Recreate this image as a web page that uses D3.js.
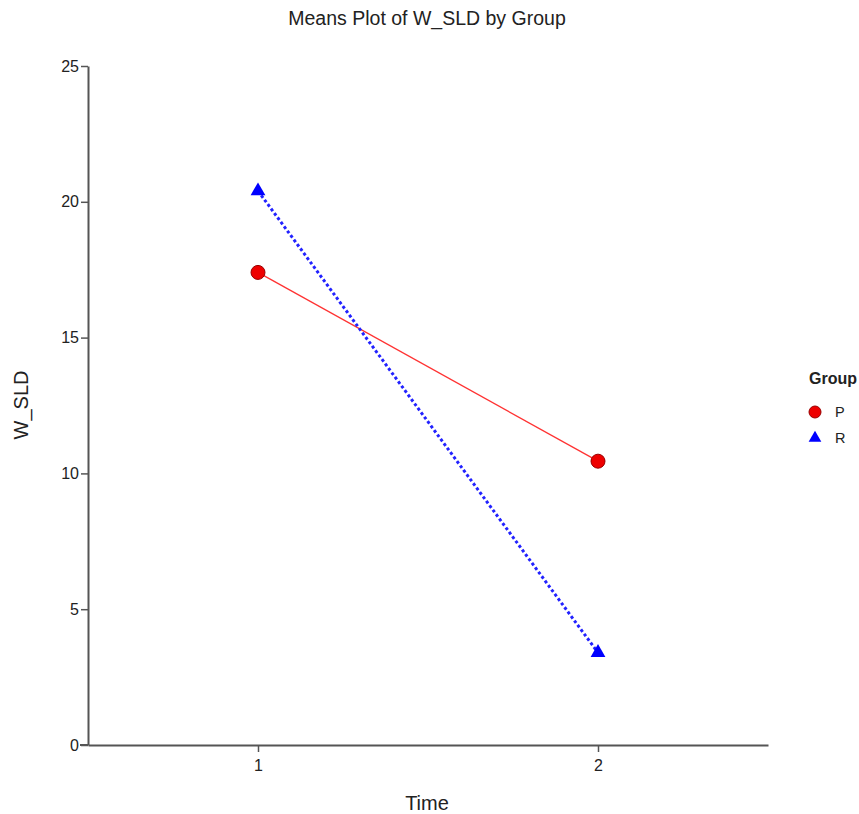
<!DOCTYPE html>
<html>
<head>
<meta charset="utf-8">
<script src="https://cdn.jsdelivr.net/npm/d3@7"></script>
<style>
  body { margin: 0; background: #fff; }
  svg, svg text { font-family: "Liberation Sans", Arial, sans-serif; }
</style>
</head>
<body>
<div id="chart"></div>
<script>
const times = [1, 2];
const groups = ["P", "R"];
const meansP = [17.4, 10.45];
const meansR = [20.4, 3.4];
const yTicks = [0, 5, 10, 15, 20, 25];

const W = 859, H = 814;

const svg = d3.select("#chart")
    .append("svg")
    .attr("width", W)
    .attr("height", H);

const x = d3.scaleLinear().domain([0.5, 2.5]).range([88, 768]);
const y = d3.scaleLinear().domain([0, 25]).range([745, 66]);

// axes
const yAxis = svg.append("g")
    .attr("transform", "translate(88,0)")
    .call(d3.axisLeft(y).tickValues(yTicks).tickSize(7).tickSizeOuter(0).tickPadding(2));

const xAxis = svg.append("g")
    .attr("transform", "translate(0,745)")
    .call(d3.axisBottom(x).tickValues(times).tickFormat(d3.format("d")).tickSize(7).tickSizeOuter(0).tickPadding(8));

[xAxis, yAxis].forEach(g => {
    g.attr("font-family", null).attr("font-size", null);
    g.select(".domain").attr("stroke", "#555").attr("stroke-width", 2);
    g.selectAll(".tick line").attr("stroke", "#555").attr("stroke-width", 1.5);
    g.selectAll(".tick text").attr("fill", "#222").style("font-size", "16px");
});

// extend x-axis line left past y-axis
xAxis.append("line")
    .attr("x1", 80).attr("x2", 88)
    .attr("stroke", "#555").attr("stroke-width", 2);

// lines
const line = d3.line()
    .x((d, i) => x(times[i]))
    .y(d => y(d));

svg.append("path")
    .datum(meansP)
    .attr("fill", "none")
    .attr("stroke", "#ff3333")
    .attr("stroke-width", 1.3)
    .attr("d", line);

svg.append("path")
    .datum(meansR)
    .attr("fill", "none")
    .attr("stroke", "#2222ff")
    .attr("stroke-width", 3)
    .attr("stroke-dasharray", "3,2.5")
    .attr("d", line);

// markers
svg.selectAll("circle.p")
    .data(meansP)
    .enter()
    .append("circle")
    .attr("class", "p")
    .attr("cx", (d, i) => x(times[i]))
    .attr("cy", d => y(d))
    .attr("r", 7)
    .attr("fill", "#ee0000")
    .attr("stroke", "#990000")
    .attr("stroke-width", 1);

const tri = d3.symbol().type(d3.symbolTriangle).size(95);

svg.selectAll("path.r")
    .data(meansR)
    .enter()
    .append("path")
    .attr("class", "r")
    .attr("transform", (d, i) => `translate(${x(times[i])},${y(d)})`)
    .attr("d", tri)
    .attr("fill", "#0000ff");

// title and labels
svg.append("text")
    .attr("x", 427)
    .attr("y", 25)
    .attr("text-anchor", "middle")
    .style("font-size", "19.5px")
    .attr("fill", "#222")
    .text("Means Plot of W_SLD by Group");

svg.append("text")
    .attr("x", 427)
    .attr("y", 810)
    .attr("text-anchor", "middle")
    .style("font-size", "20px")
    .attr("fill", "#222")
    .text("Time");

svg.append("text")
    .attr("transform", "rotate(-90)")
    .attr("x", -405)
    .attr("y", 28)
    .attr("text-anchor", "middle")
    .style("font-size", "20px")
    .attr("fill", "#222")
    .text("W_SLD");

// legend
svg.append("text")
    .attr("x", 809)
    .attr("y", 384)
    .style("font-size", "16px")
    .style("font-weight", "bold")
    .attr("fill", "#222")
    .text("Group");

const legend = svg.selectAll("g.legend")
    .data(groups)
    .enter()
    .append("g")
    .attr("class", "legend")
    .attr("transform", (d, i) => `translate(815,${412 + i * 26})`);

legend.each(function (d, i) {
    const g = d3.select(this);
    if (i === 0) {
        g.append("circle").attr("r", 6).attr("fill", "#ee0000").attr("stroke", "#990000");
    } else {
        g.append("path").attr("d", d3.symbol().type(d3.symbolTriangle).size(70)).attr("fill", "#0000ff");
    }
    g.append("text")
        .attr("x", 20)
        .attr("y", 5)
        .style("font-size", "14.5px")
        .attr("fill", "#222")
        .text(d);
});
</script>
</body>
</html>
